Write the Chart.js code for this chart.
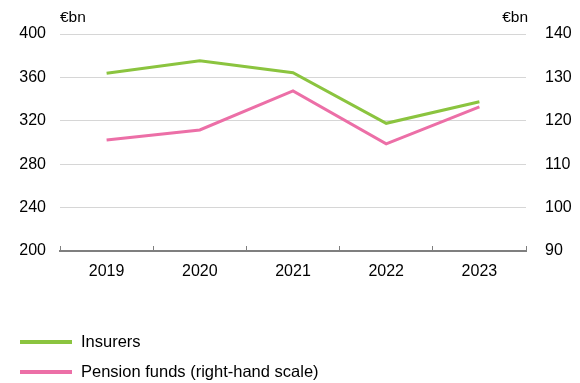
<!DOCTYPE html>
<html>
<head>
<meta charset="utf-8">
<script src="https://cdn.jsdelivr.net/npm/chart.js@4"></script>
<style>
  html, body { margin: 0; padding: 0; background: #fff; }
  canvas { display: block; }
</style>
</head>
<body>
<canvas id="c" width="580" height="383"></canvas>
<script>
const years = ['2019', '2020', '2021', '2022', '2023'];
const insurers = [363.8, 375.4, 364.3, 317.7, 337.6];
const pensionFunds = [115.6, 117.9, 126.9, 114.7, 123.2];
const seriesNames = ['Insurers', 'Pension funds (right-hand scale)'];
const leftTicks = [200, 240, 280, 320, 360, 400];
const rightTicks = [90, 100, 110, 120, 130, 140];
const unitLabel = '€bn';

const GREEN = '#8bc43f';
const PINK = '#ec6fa7';
const FONT = '"Liberation Sans", Arial, sans-serif';

// Unit captions above both value axes, plus the two-row legend underneath
const decorations = {
  id: 'decorations',
  afterDraw(chart) {
    const { ctx, chartArea } = chart;
    ctx.save();
    ctx.fillStyle = '#000';
    ctx.font = '15.5px ' + FONT;
    ctx.textBaseline = 'middle';
    ctx.textAlign = 'left';
    ctx.fillText(unitLabel, chartArea.left, chartArea.top - 16);
    ctx.textAlign = 'right';
    ctx.fillText(unitLabel, chartArea.right + 2, chartArea.top - 16);

    ctx.font = '16.5px ' + FONT;
    const rows = [chartArea.bottom + 91, chartArea.bottom + 121];
    chart.data.datasets.forEach((ds, i) => {
      const y = rows[i];
      ctx.strokeStyle = ds.borderColor;
      ctx.lineWidth = 4;
      ctx.beginPath();
      ctx.moveTo(20, y);
      ctx.lineTo(72, y);
      ctx.stroke();
      ctx.fillStyle = '#000';
      ctx.textAlign = 'left';
      ctx.fillText(ds.label, 81, y);
    });
    ctx.restore();
  }
};

new Chart(document.getElementById('c'), {
  type: 'line',
  data: {
    labels: years,
    datasets: [
      { label: seriesNames[0], data: insurers, yAxisID: 'y', borderColor: GREEN,
        borderWidth: 3, pointRadius: 0, tension: 0, fill: false },
      { label: seriesNames[1], data: pensionFunds, yAxisID: 'y1', borderColor: PINK,
        borderWidth: 3, pointRadius: 0, tension: 0, fill: false }
    ]
  },
  options: {
    responsive: false,
    animation: false,
    layout: { padding: { top: 34, bottom: 102, left: 0, right: 0 } },
    plugins: { legend: { display: false }, tooltip: { enabled: false } },
    scales: {
      x: {
        offset: true,
        grid: { offset: true, drawOnChartArea: false, drawTicks: true, tickLength: -5,
                color: '#7f7f7f', lineWidth: 1 },
        border: { display: true, color: '#7f7f7f', width: 2 },
        ticks: { color: '#000', font: { family: FONT, size: 16 }, padding: 16, maxRotation: 0 },
        afterFit(scale) { scale.height = 30; }
      },
      y: {
        position: 'left',
        min: 200, max: 400,
        afterBuildTicks(scale) { scale.ticks = leftTicks.map(v => ({ value: v })); },
        grid: { color: '#d6d6d6', lineWidth: 1, drawTicks: false },
        border: { display: false },
        ticks: { color: '#000', font: { family: FONT, size: 16 }, padding: 14 },
        afterFit(scale) { scale.width = 60; }
      },
      y1: {
        position: 'right',
        min: 90, max: 140,
        afterBuildTicks(scale) { scale.ticks = rightTicks.map(v => ({ value: v })); },
        grid: { drawOnChartArea: false, drawTicks: false },
        border: { display: false },
        ticks: { color: '#000', font: { family: FONT, size: 16 }, padding: 19 },
        afterFit(scale) { scale.width = 54; }
      }
    }
  },
  plugins: [decorations]
});
</script>
</body>
</html>
